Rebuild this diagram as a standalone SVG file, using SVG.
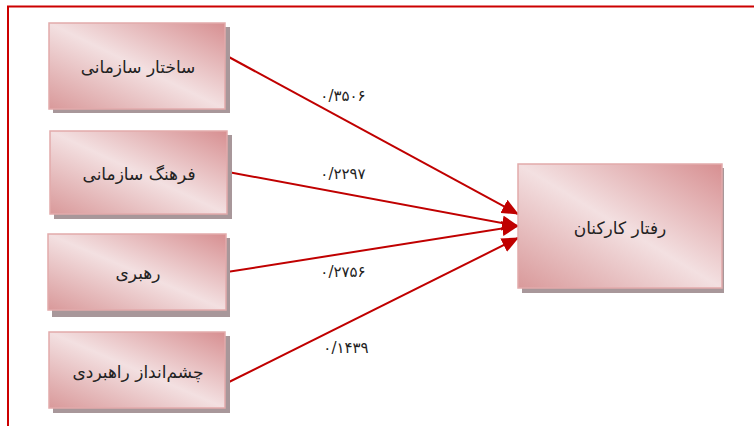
<svg xmlns="http://www.w3.org/2000/svg" width="754" height="426" viewBox="0 0 754 426">
<defs>
<linearGradient id="g" x1="0" y1="1" x2="1" y2="0">
<stop offset="0" stop-color="#D9999A"/>
<stop offset="0.5" stop-color="#F3E0E1"/>
<stop offset="1" stop-color="#D78F91"/>
</linearGradient>
<marker id="ah" viewBox="0 0 17 15" refX="16" refY="7.5" markerWidth="17" markerHeight="15" markerUnits="userSpaceOnUse" orient="auto">
<path d="M0,0 L17,7.5 L0,15 Z" fill="#C00000"/>
</marker>
<style>
.sh{fill:#A8979A}
.bx{fill:url(#g);stroke:#E2AAAB;stroke-width:1.5}
.t{font-family:"DejaVu Sans",sans-serif;font-size:17px;fill:#222;text-anchor:middle;dominant-baseline:central}
.n{font-family:"DejaVu Sans",sans-serif;font-size:15px;fill:#222;text-anchor:middle;dominant-baseline:central}
.c{stroke:#C00000;stroke-width:2;fill:none}
</style>
</defs>
<rect width="754" height="426" fill="#fff"/>
<g id="frame"><path d="M8,426 V6.5 H754" fill="none" stroke="#CC0000" stroke-width="2"/></g>
<g id="connectors">
<line class="c" x1="227" y1="56" x2="518" y2="214" marker-end="url(#ah)"/>
<line class="c" x1="228" y1="172" x2="518" y2="226" marker-end="url(#ah)"/>
<line class="c" x1="227" y1="272" x2="518" y2="226" marker-end="url(#ah)"/>
<line class="c" x1="227" y1="383" x2="518" y2="238" marker-end="url(#ah)"/>
<text class="n" x="343" y="96">۰/۳۵۰۶</text>
<text class="n" x="343" y="174">۰/۲۲۹۷</text>
<text class="n" x="343" y="272">۰/۲۷۵۶</text>
<text class="n" x="346" y="348">۰/۱۴۳۹</text>
</g>
<g id="n1"><rect class="sh" x="53" y="27" width="177" height="86"/><rect class="bx" x="49" y="23" width="176" height="86"/><text class="t" x="138" y="67">ساختار سازمانی</text></g>
<g id="n2"><rect class="sh" x="54" y="135" width="178" height="84"/><rect class="bx" x="50" y="131" width="177" height="83"/><text class="t" x="139" y="174">فرهنگ سازمانی</text></g>
<g id="n3"><rect class="sh" x="52" y="238" width="178" height="79"/><rect class="bx" x="48" y="234" width="178" height="76"/><text class="t" x="138" y="273">رهبری</text></g>
<g id="n4"><rect class="sh" x="53" y="336" width="177" height="77"/><rect class="bx" x="49" y="332" width="176" height="76"/><text class="t" x="138" y="372">چشم‌انداز راهبردی</text></g>
<g id="n5"><rect class="sh" x="522" y="168" width="202" height="125"/><rect class="bx" x="518" y="164" width="204" height="124"/><text class="t" x="620" y="228">رفتار کارکنان</text></g>
</svg>
